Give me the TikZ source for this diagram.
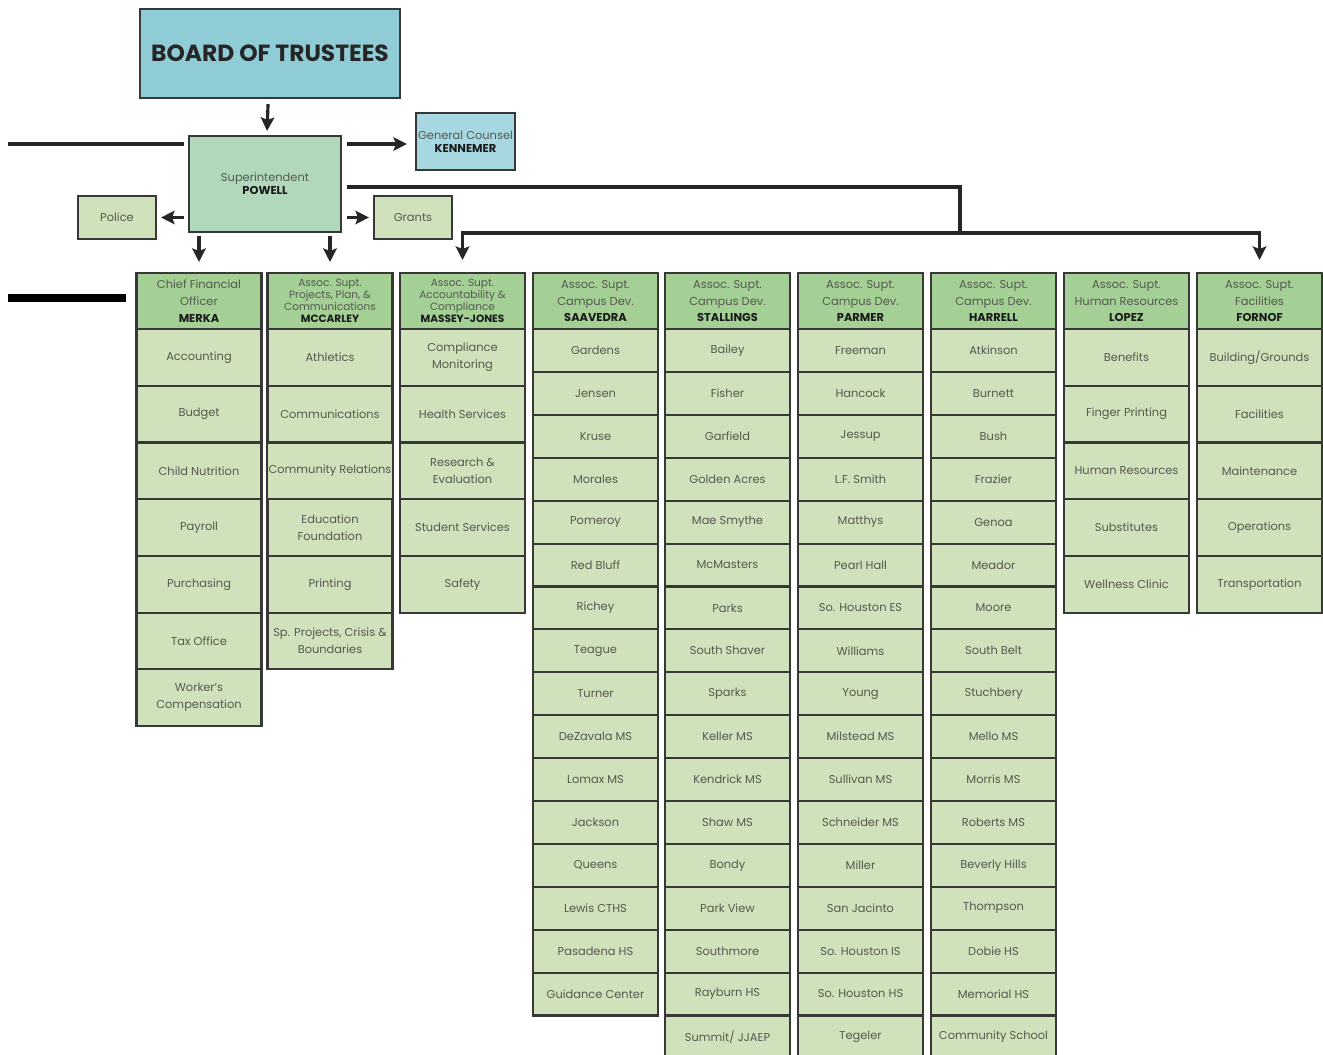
\documentclass[tikz,border=0pt]{standalone}
\usepackage{fontspec}
\setmainfont{Poppins}
\usetikzlibrary{arrows.meta,positioning}

\definecolor{boardblue}{HTML}{8FCCD6}
\definecolor{counselblue}{HTML}{A7D8E2}
\definecolor{supgreen}{HTML}{B2D8BC}
\definecolor{headgreen}{HTML}{A4D095}
\definecolor{cellgreen}{HTML}{D0E2BC}
\definecolor{edge}{HTML}{383838}
\definecolor{textgray}{HTML}{55594F}

\newcommand{\who}[1]{\textbf{\color{black!90}#1}}

\tikzset{
  box/.style={draw=edge, line width=1.2pt, align=center, text=textgray,
    font=\fontsize{6.5}{9.6}\selectfont, inner sep=1pt},
  headbox/.style={box, fill=headgreen, minimum width=25mm, minimum height=11.2mm, anchor=north},
  headfour/.style={headbox, font=\fontsize{6}{6.8}\selectfont},
  tallcell/.style={box, fill=cellgreen, minimum width=25mm, minimum height=11.34mm, anchor=north},
  shortcell/.style={box, fill=cellgreen, minimum width=25mm, minimum height=8.58mm, anchor=north},
  link/.style={line width=1.8pt, draw=black!85},
  arr/.style={link, -{Stealth[length=2.7mm,width=2.7mm,inset=0.5mm]}},
}

\begin{document}
\begin{tikzpicture}[x=0.2mm,y=-0.2mm]
\useasboundingbox (0,0) rectangle (1323,1055);

% Top of the chart
\node[box, fill=boardblue, minimum width=52mm, minimum height=17.8mm,
  font=\fontsize{13.3}{15}\bfseries, text=black!85] (board) at (270,53.5) {BOARD OF TRUSTEES};
\node[box, fill=supgreen, minimum width=30.4mm, minimum height=19.2mm] (sup) at (265,184) {Superintendent\\[-2pt]\who{POWELL}};
\node[box, fill=counselblue, minimum width=19.8mm, minimum height=11.4mm] (counsel) at (465.5,141.5) {General Counsel\\[-2pt]\who{KENNEMER}};
\node[box, fill=cellgreen, minimum width=15.6mm, minimum height=8.6mm] (police) at (117,217.5) {Police};
\node[box, fill=cellgreen, minimum width=15.6mm, minimum height=8.6mm] (grants) at (413,217.5) {Grants};

% Column heads
\node[headbox] (cfo) at (199,272) {Chief Financial\\Officer\\\who{MERKA}};
\node[headfour] (ppc) at (330,272) {Assoc. Supt.\\Projects, Plan, \&\\Communications\\\who{MCCARLEY}};
\node[headfour] (acct) at (462.5,272) {Assoc. Supt.\\Accountability \&\\Compliance\\\who{MASSEY-JONES}};
\node[headbox] (dev1) at (595.5,272) {Assoc. Supt.\\Campus Dev.\\\who{SAAVEDRA}};
\node[headbox] (dev2) at (727.5,272) {Assoc. Supt.\\Campus Dev.\\\who{STALLINGS}};
\node[headbox] (dev3) at (860.5,272) {Assoc. Supt.\\Campus Dev.\\\who{PARMER}};
\node[headbox] (dev4) at (993.5,272) {Assoc. Supt.\\Campus Dev.\\\who{HARRELL}};
\node[headbox] (hr) at (1126.5,272) {Assoc. Supt.\\Human Resources\\\who{LOPEZ}};
\node[headbox] (fac) at (1259.5,272) {Assoc. Supt.\\Facilities\\\who{FORNOF}};

% Departments
\foreach \txt [count=\r] in {Accounting, Budget, Child Nutrition, Payroll, Purchasing, Tax Office, {Worker's\\Compensation}}
  \node[tallcell] (cfo-\r) at (199,{328+(\r-1)*56.7}) {\txt};
\foreach \txt [count=\r] in {Athletics, Communications, Community Relations, {Education\\Foundation}, Printing, {Sp. Projects, Crisis \&\\Boundaries}}
  \node[tallcell] (ppc-\r) at (330,{328+(\r-1)*56.7}) {\txt};
\foreach \txt [count=\r] in {{Compliance\\Monitoring}, Health Services, {Research \&\\Evaluation}, Student Services, Safety}
  \node[tallcell] (acct-\r) at (462.5,{328+(\r-1)*56.7}) {\txt};
\foreach \txt [count=\r] in {Benefits, Finger Printing, Human Resources, Substitutes, Wellness Clinic}
  \node[tallcell] (hr-\r) at (1126.5,{328+(\r-1)*56.7}) {\txt};
\foreach \txt [count=\r] in {Building/Grounds, Facilities, Maintenance, Operations, Transportation}
  \node[tallcell] (fac-\r) at (1259.5,{328+(\r-1)*56.7}) {\txt};

% Campuses
\foreach \txt [count=\r] in {Gardens, Jensen, Kruse, Morales, Pomeroy, Red Bluff, Richey, Teague, Turner, DeZavala MS, Lomax MS, Jackson, Queens, Lewis CTHS, Pasadena HS, Guidance Center}
  \node[shortcell] (dev1-\r) at (595.5,{328+(\r-1)*42.9}) {\txt};
\foreach \txt [count=\r] in {Bailey, Fisher, Garfield, Golden Acres, Mae Smythe, McMasters, Parks, South Shaver, Sparks, Keller MS, Kendrick MS, Shaw MS, Bondy, Park View, Southmore, Rayburn HS, Summit/ JJAEP}
  \node[shortcell] (dev2-\r) at (727.5,{328+(\r-1)*42.9}) {\txt};
\foreach \txt [count=\r] in {Freeman, Hancock, Jessup, L.F. Smith, Matthys, Pearl Hall, So. Houston ES, Williams, Young, Milstead MS, Sullivan MS, Schneider MS, Miller, San Jacinto, So. Houston IS, So. Houston HS, Tegeler}
  \node[shortcell] (dev3-\r) at (860.5,{328+(\r-1)*42.9}) {\txt};
\foreach \txt [count=\r] in {Atkinson, Burnett, Bush, Frazier, Genoa, Meador, Moore, South Belt, Stuchbery, Mello MS, Morris MS, Roberts MS, Beverly Hills, Thompson, Dobie HS, Memorial HS, Community School}
  \node[shortcell] (dev4-\r) at (993.5,{328+(\r-1)*42.9}) {\txt};

% Connectors
\coordinate (west) at (8,144);
\coordinate (stub) at (8,298);
\coordinate (bend) at (960,187);
\coordinate (split) at (960,233);

\draw[arr, shorten <=1mm, shorten >=0.8mm] (board) -- (sup);
\draw[link, shorten >=0.8mm] (west) -- (west -| sup.west);
\draw[arr, shorten <=1mm, shorten >=1.6mm] (sup.east |- west) -- (west -| counsel.west);
\draw[arr, shorten <=0.8mm, shorten >=0.8mm] (sup.west |- police) -- (police);
\draw[arr, shorten <=1mm, shorten >=0.8mm] (sup.east |- grants) -- (grants);
\draw[arr, shorten <=0.6mm, shorten >=2mm] (sup.south -| cfo) -- (cfo);
\draw[arr, shorten <=0.6mm, shorten >=2mm] (sup.south -| ppc) -- (ppc);
\draw[link, shorten <=1mm] (sup.east |- bend) -- (bend) -- (split);
\draw[arr, shorten >=2.4mm] (split) -| (acct);
\draw[arr, shorten >=2.4mm] (split) -| (fac);
\draw[line width=4pt, shorten >=1.8mm] (stub) -- (stub -| cfo.west);
\end{tikzpicture}
\end{document}
